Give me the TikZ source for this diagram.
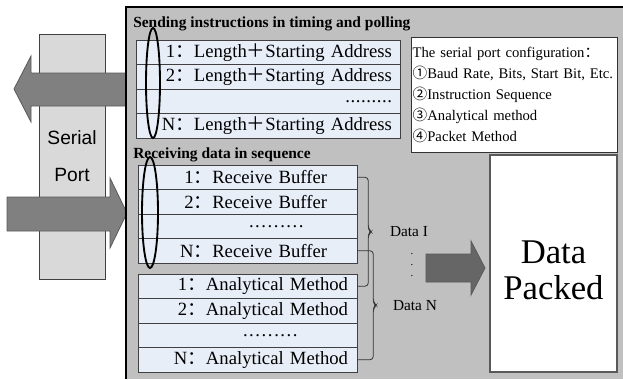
\documentclass[tikz,border=0pt]{standalone}
\usepackage{fontspec}
\setmainfont{Liberation Serif}
\newfontfamily\cjkfont{Noto Sans CJK SC}
\newfontfamily\portfont{Liberation Sans}
\usepackage{tikz}
\usetikzlibrary{calc,shapes.geometric}
\newcommand\fc{{\cjkfont ：}}
\newcommand\fp{{\cjkfont ＋}}
\newcommand\rowdots[1]{\hbox to #1{.\hfil.\hfil.\hfil.\hfil.\hfil.\hfil.\hfil.\hfil.}}
\definecolor{panelgray}{RGB}{192,192,192}
\definecolor{rowblue}{RGB}{232,238,248}
\definecolor{portgray}{RGB}{217,217,217}
\definecolor{arrowgray}{RGB}{128,128,128}
\tikzset{
  row/.style={draw=black!75, fill=rowblue, minimum height=18.375pt, inner ysep=0pt, align=right, font=\fontsize{14}{16}\selectfont},
  sendrow/.style={row, text width=186pt, inner xsep=6pt},
  recvrow/.style={row, text width=119.25pt, inner xsep=22.5pt},
  anarow/.style={row, text width=150.75pt, inner xsep=6.75pt},
  ring/.style={ellipse, draw, line width=1.4pt, inner sep=0pt},
  title/.style={font=\fontsize{11.6}{13}\selectfont\bfseries, anchor=west, inner sep=0pt},
  fatarrow/.style={fill=arrowgray, draw=black!65, line width=0.6pt},
  bracket/.style={draw=black!80, line width=0.6pt, rounded corners=2.5pt}
}

\begin{document}
\begin{tikzpicture}[x=0.75pt, y=-0.75pt]
\useasboundingbox (0,0) rectangle (623,379);
% serial port and the two port arrows
\node[draw=black!75, fill=portgray, minimum width=49.5pt, minimum height=183.75pt, align=center, font=\portfont\fontsize{14.4}{27.75}\selectfont] (port) at (72,156.5) {Serial\\Port};
\draw[fatarrow] (126,73) -- (31,73) -- (31,56) -- (14,89) -- (31,122) -- (31,106) -- (126,106) -- cycle;
\draw[fatarrow] (7,197) -- (110,197) -- (110,178) -- (127,213) -- (110,248) -- (110,231) -- (7,231) -- cycle;
% gray panel
\fill[panelgray] (126,7) rectangle (623,379);
\draw[line width=0.8pt] (126,379) -- (126,7) -- (623,7);
\node[title] (t1) at (133,24) {Sending instructions in timing and polling};
\node[title] (t2) at (133,155) {Receiving data in sequence};
% sending instructions
\node[sendrow] (s1) at (268,52.25) {1\fc Length\fp Starting Address};
\node[sendrow] (s2) at (268,76.75) {2\fc Length\fp Starting Address};
\node[sendrow] (s3) at (268,101.25) {\rowdots{35pt}};
\node[sendrow] (s4) at (268,125.75) {N\fc Length\fp Starting Address};
\node[ring, minimum width=10.5pt, minimum height=82.5pt] (sring) at (153,83) {};
% receive buffers
\node[recvrow] (r1) at (247.5,177.25) {1\fc Receive Buffer};
\node[recvrow] (r2) at (247.5,201.75) {2\fc Receive Buffer};
\node[recvrow, align=left] (r3) at (247.5,226.25) {\hspace*{60.75pt}\rowdots{41pt}};
\node[recvrow] (r4) at (247.5,250.75) {N\fc Receive Buffer};
\node[ring, minimum width=12pt, minimum height=83.25pt] (rring) at (150,212.5) {};
% analytical methods
\node[anarow] (a1) at (247.5,286.25) {1\fc Analytical Method};
\node[anarow] (a2) at (247.5,310.75) {2\fc Analytical Method};
\node[anarow, align=left] (a3) at (247.5,335.25) {\hspace*{72pt}\rowdots{41pt}};
\node[anarow] (a4) at (247.5,359.75) {N\fc Analytical Method};
% configuration
\node[draw=black!80, fill=white, minimum width=154.5pt, minimum height=86.25pt, text width=152pt, inner xsep=1pt, align=left, font=\fontsize{11}{15.75}\selectfont] (cfg) at (514,94.5)
  {The serial port configuration\fc\\{\cjkfont ①}Baud Rate, Bits, Start Bit, Etc.\\{\cjkfont ②}Instruction Sequence\\{\cjkfont ③}Analytical method\\{\cjkfont ④}Packet Method};
% brackets to the data
\draw[bracket] (r1.east) -- ++(11,0) -- ($(r1.east)!.5!(a1.east)+(11,-3)$) -- ++(3,3) -- ++(-3,3) -- ($(a1.east)+(11,0)$) -- (a1.east);
\draw[bracket] (r4.east) -- ++(16,0) -- ($(r4.east)!.5!(a4.east)+(16,-3)$) -- ++(3,3) -- ++(-3,3) -- ($(a4.east)+(16,0)$) -- (a4.east);
\node[font=\fontsize{11.5}{13}\selectfont] (d1) at (409,232) {Data I};
\node[align=center, inner sep=0pt, font=\fontsize{8}{8.4}\selectfont] (dv) at (412,265) {.\\.\\.};
\node[font=\fontsize{11.5}{13}\selectfont] (dn) at (415,306) {Data N};
% packing
\draw[fatarrow, fill=black!60] (426,254) -- (471,254) -- (471,241) -- (485,268) -- (471,295) -- (471,282) -- (426,282) -- cycle;
\node[draw=black!65, line width=1.2pt, fill=white, minimum width=95.25pt, minimum height=162.75pt,
  label={[align=center, font=\fontsize{26}{27}\selectfont, yshift=-5pt]center:Data\\Packed}] (pack) at (553.5,263.5) {};
\end{tikzpicture}
\end{document}
